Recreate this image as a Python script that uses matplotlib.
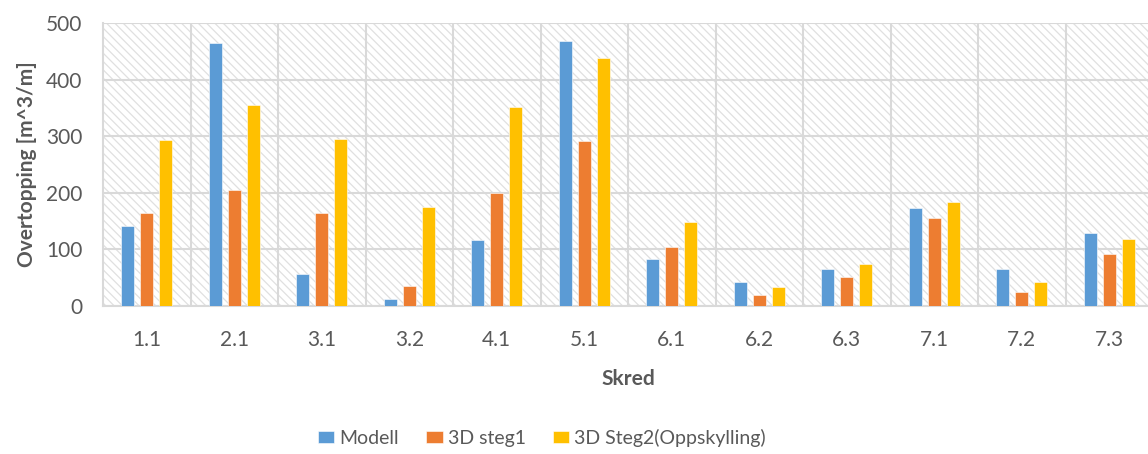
import numpy as np
import matplotlib.pyplot as plt
from matplotlib.patches import Rectangle

plt.rcParams['font.family'] = ['Lato', 'DejaVu Sans']

# Overtopping per slide, three model variants
skred = ['1.1', '2.1', '3.1', '3.2', '4.1', '5.1', '6.1', '6.2', '6.3', '7.1', '7.2', '7.3']
modell = [141, 464, 56, 13, 117, 468, 83, 42, 65, 174, 66, 129]
steg1 = [165, 205, 165, 36, 199, 292, 105, 19, 52, 156, 25, 91]
steg2 = [294, 356, 295, 175, 352, 439, 148, 34, 74, 184, 42, 118]

series = [('Modell', modell, '#5B9BD5'),
          ('3D steg1', steg1, '#ED7D31'),
          ('3D Steg2(Oppskylling)', steg2, '#FFC000')]

text_col = '#595959'
grid_col = '#d9d9d9'

fig = plt.figure(figsize=(11.48, 4.54), dpi=100)
ax = fig.add_axes([103 / 1148, 148 / 454, 1050 / 1148, 283 / 454])

# light diagonal hatch over the plot area
plt.rcParams['hatch.linewidth'] = 0.9
ax.add_patch(Rectangle((0, 0), 1, 1, transform=ax.transAxes, facecolor='white',
                       edgecolor='#e0e0e0', hatch='\\' * 4, linewidth=0, zorder=0))

x = np.arange(len(skred))
w = 0.152
step = 0.217
for i, (name, vals, col) in enumerate(series):
    ax.bar(x + (i - 1) * step, vals, width=w, color=col, label=name, zorder=3,
           edgecolor='white', linewidth=0.4)

ax.set_xlim(-0.5, len(skred) - 0.5)
ax.set_ylim(0, 500)
ax.set_yticks(range(0, 501, 100))
ax.set_xticks(x)
ax.set_xticklabels(skred)
ax.set_xticks(x[:-1] + 0.5, minor=True)

ax.grid(axis='y', color=grid_col, linewidth=1.5, zorder=1)
ax.grid(axis='x', which='minor', color=grid_col, linewidth=1.5, zorder=1)
ax.set_axisbelow(True)

for s in ['top', 'right']:
    ax.spines[s].set_visible(False)
for s in ['left', 'bottom']:
    ax.spines[s].set_color(grid_col)
    ax.spines[s].set_linewidth(1.5)

ax.tick_params(axis='both', which='both', length=0, labelsize=15, colors=text_col)
ax.tick_params(axis='x', pad=17)
ax.tick_params(axis='y', pad=15)

ax.set_xlabel('Skred', fontsize=15, fontweight='bold', color=text_col, labelpad=14)
ax.set_ylabel('Overtopping [m^3/m]', fontsize=15, fontweight='bold', color=text_col, labelpad=6)

fig.legend(loc='center', bbox_to_anchor=(0.472, 16 / 454), ncol=3, frameon=False,
           fontsize=14, labelcolor=text_col, handlelength=0.85, handleheight=0.62,
           handletextpad=0.25, columnspacing=1.4, borderaxespad=0)

fig.savefig('out.png', dpi=100)
